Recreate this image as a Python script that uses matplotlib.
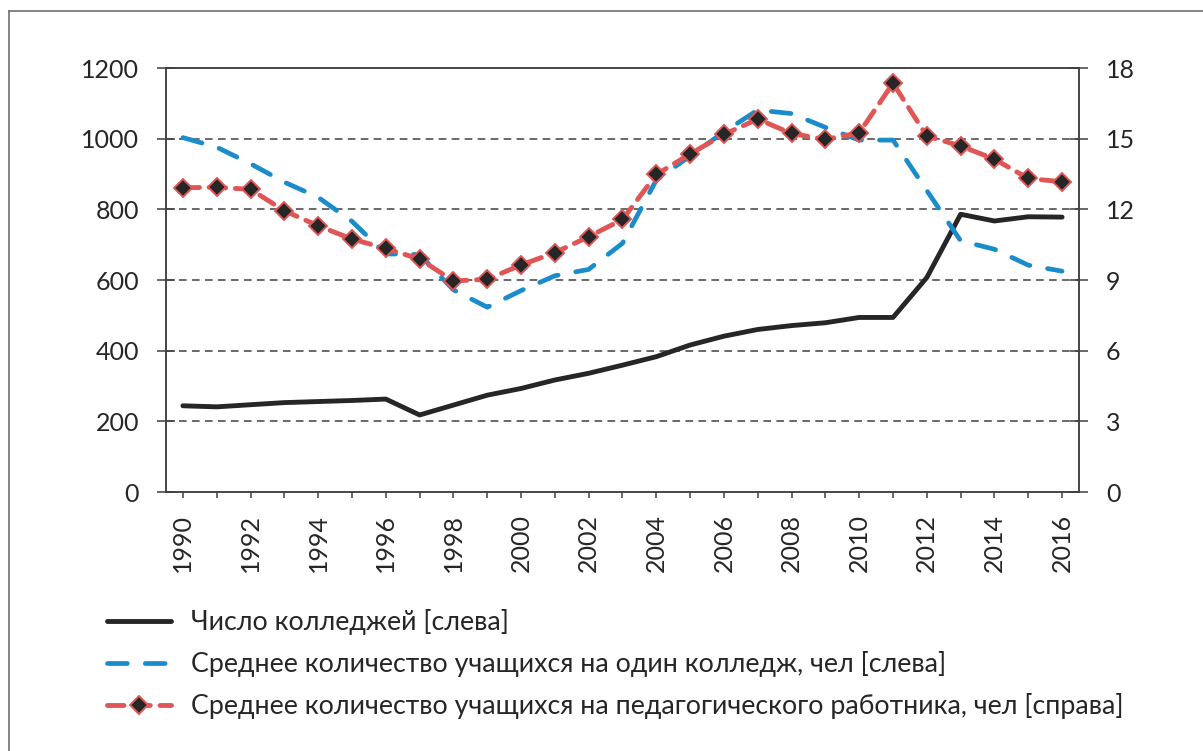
import matplotlib.pyplot as plt
from matplotlib.lines import Line2D

plt.rcParams['font.family'] = ['Lato', 'DejaVu Sans']

years = list(range(1990, 2017))

colleges = [244, 241, 247, 253, 256, 259, 263, 218, 246, 274, 293, 317, 336, 359,
            383, 416, 441, 460, 471, 479, 494, 494, 607, 786, 767, 779, 778]

students_per_college = [1003, 976, 929, 877, 834, 766, 674, 672, 572, 523, 570, 612, 630, 704,
                        883, 951, 1019, 1081, 1071, 1032, 996, 996, 853, 711, 687, 642, 625]

students_per_teacher = [12.92, 12.93, 12.85, 11.94, 11.30, 10.74, 10.34, 9.89, 8.96, 9.03,
                        9.64, 10.16, 10.84, 11.57, 13.48, 14.35, 15.18, 15.83, 15.22, 14.97,
                        15.25, 17.35, 15.11, 14.69, 14.13, 13.31, 13.17]

labels = ['Число колледжей [слева]',
          'Среднее количество учащихся на один колледж, чел [слева]',
          'Среднее количество учащихся на педагогического работника, чел [справа]']

txt = '#262626'
fs = 18

fig = plt.figure(figsize=(12.03, 7.51), dpi=100)
ax = fig.add_axes([166/1203, 1 - 492/751, 913/1203, 424/751])
ax2 = ax.twinx()

x = list(range(len(years)))
l1, = ax.plot(x, colleges, color='#262626', lw=3.5, solid_capstyle='round')
l2, = ax.plot(x, students_per_college, color='#1a8bcb', lw=3.4,
              dashes=(4.2, 3.8), dash_capstyle='round')
l3, = ax2.plot(x, students_per_teacher, color='#e05656', lw=3.5,
               dashes=(3.4, 2.0), dash_capstyle='round',
               marker='D', markersize=8.8, markerfacecolor='#262626',
               markeredgecolor='#e05656', markeredgewidth=1.4)

ax.set_xlim(-0.5, len(years) - 0.5)
ax.set_ylim(0, 1200)
ax2.set_ylim(0, 18)
ax.set_yticks(range(0, 1201, 200))
ax2.set_yticks(range(0, 19, 3))

for yv in range(200, 1001, 200):
    ax.axhline(yv, color='#404040', lw=1.1, dashes=(5, 3.5), zorder=0)

ax.set_xticks(x)
ax.set_xticklabels([str(y) if y % 2 == 0 else '' for y in years], rotation=90)

for a in (ax, ax2):
    for s in a.spines.values():
        s.set_color('#404040')
        s.set_linewidth(1.1)
    a.tick_params(axis='y', direction='inout', length=13, width=1.1,
                  color='#404040', labelsize=fs, labelcolor=txt, pad=13)
ax.tick_params(axis='x', direction='out', length=4.5, width=1.1,
               color='#404040', labelsize=fs, labelcolor=txt, pad=11)

fig.legend([l1, l2, l3], labels, loc='upper left',
           bbox_to_anchor=(107/1203, 1 - 609/751), frameon=False,
           fontsize=19.3, handlelength=2.4, handletextpad=0.75,
           labelspacing=0.6, borderpad=0, borderaxespad=0, labelcolor=txt)

# outer frame (only left and top edges fall inside the image)
fig.add_artist(Line2D([8.5/1203, 8.5/1203], [0, 1 - 10.5/751],
                      transform=fig.transFigure, color='#707070', lw=1.2))
fig.add_artist(Line2D([8.5/1203, 1], [1 - 10.5/751, 1 - 10.5/751],
                      transform=fig.transFigure, color='#707070', lw=1.2))

fig.savefig('out.png', dpi=100)
